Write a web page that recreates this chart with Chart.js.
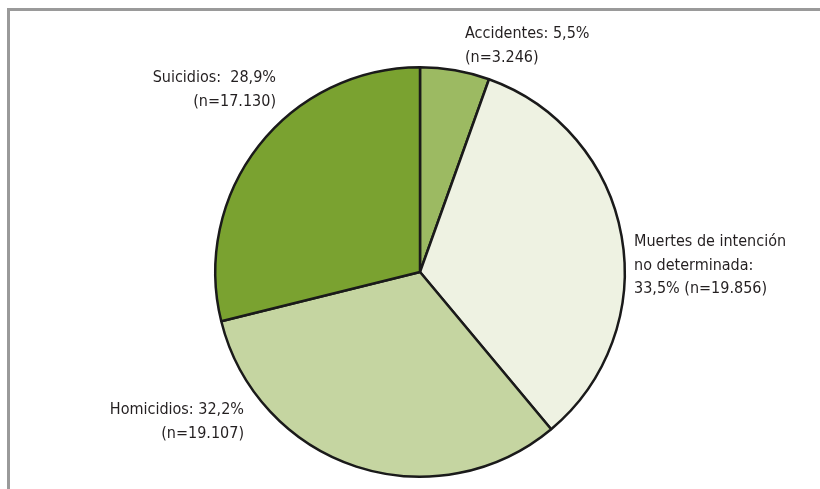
<!DOCTYPE html>
<html>
<head>
<meta charset="utf-8">
<script src="https://cdn.jsdelivr.net/npm/chart.js@4"></script>
<style>
  html, body { margin: 0; padding: 0; background: #fff; }
  #wrap { position: relative; width: 820px; height: 489px; }
  #frame { position: absolute; left: 7px; top: 8px; right: 0; bottom: 0;
           border-left: 3px solid #9a9a9a; border-top: 3px solid #9a9a9a; }
  canvas { position: absolute; left: 0; top: 0; }
</style>
</head>
<body>
<div id="wrap">
  <div id="frame"></div>
  <canvas id="pie" width="820" height="489"></canvas>
</div>
<script>
// donnees du graphique
const categories = ["Accidentes", "Muertes de intención no determinada", "Homicidios", "Suicidios"];
const counts = [3246, 19856, 19107, 17130];
const couleurs = ["#9cba62", "#eef2e2", "#c5d5a1", "#7aa230"];

// textes des etiquettes (une ligne par element)
const etiquettes = [
  ["Accidentes: 5,5%", "(n=3.246)"],
  ["Muertes de intención", "no determinada:", "33,5% (n=19.856)"],
  ["Homicidios: 32,2%", "(n=19.107)"],
  ["Suicidios:  28,9%", "(n=17.130)"]
];
// position du texte : x, y de la premiere ligne, alignement
const placeEtiquettes = [
  { x: 465, y: 34, align: "left" },
  { x: 634, y: 242, align: "left" },
  { x: 244, y: 410, align: "right" },
  { x: 276, y: 78, align: "right" }
];

const pluginEtiquettes = {
  id: "etiquettes",
  afterDraw(chart) {
    const ctx = chart.ctx;
    ctx.save();
    ctx.fillStyle = "#231f20";
    ctx.font = "16px 'Liberation Sans Narrow', 'DejaVu Sans Condensed', sans-serif";
    ctx.textBaseline = "middle";
    etiquettes.forEach((lignes, i) => {
      const p = placeEtiquettes[i];
      ctx.textAlign = p.align;
      lignes.forEach((l, j) => ctx.fillText(l, p.x, p.y + j * 23.5));
    });
    ctx.restore();
  }
};

const config = {
  type: "pie",
  data: {
    labels: categories,
    datasets: [
      {
        data: counts,
        backgroundColor: couleurs,
        borderColor: "#1a1a1a",
        borderWidth: 2.5,
        borderAlign: "center",
      },
    ],
  },
  options: {
    responsive: false,
    animation: false,
    layout: { padding: { left: 214, right: 194, top: 66, bottom: 11 } },
    plugins: {
      legend: { display: false },
      tooltip: { enabled: false },
    },
  },
  plugins: [pluginEtiquettes],
};

let chart = new Chart(document.getElementById("pie").getContext("2d"), config);
</script>
</body>
</html>
